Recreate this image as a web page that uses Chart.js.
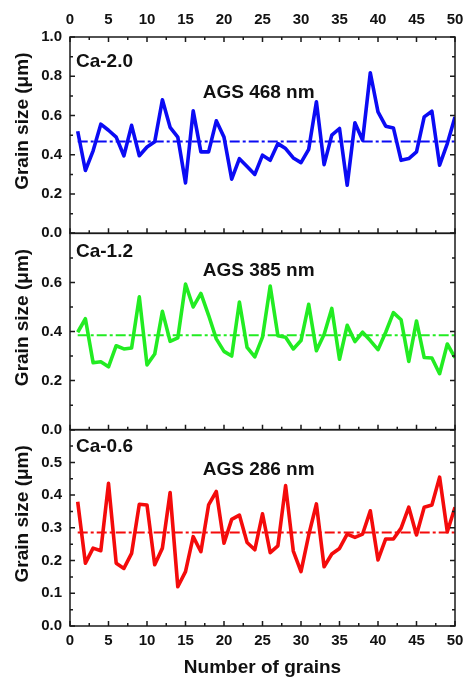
<!DOCTYPE html>
<html>
<head>
<meta charset="utf-8">
<title>Grain size</title>
<script src="https://cdn.jsdelivr.net/npm/chart.js@4.4.1/dist/chart.umd.min.js"></script>
<style>
  html, body { margin: 0; padding: 0; background: #fff; }
  #grainChart { display: block; }
</style>
</head>
<body>
<canvas id="grainChart" width="465" height="682"></canvas>
<script>
const grainNumbers = [1, 2, 3, 4, 5, 6, 7, 8, 9, 10, 11, 12, 13, 14, 15, 16, 17, 18, 19, 20,
  21, 22, 23, 24, 25, 26, 27, 28, 29, 30, 31, 32, 33, 34, 35, 36, 37, 38, 39, 40,
  41, 42, 43, 44, 45, 46, 47, 48, 49, 50];

const ca20Sizes = [0.52, 0.32, 0.42, 0.556, 0.525, 0.49, 0.395, 0.55, 0.395, 0.44,
  0.466, 0.68, 0.54, 0.49, 0.257, 0.624, 0.415, 0.415, 0.573, 0.49,
  0.276, 0.38, 0.34, 0.30, 0.398, 0.372, 0.457, 0.432, 0.384, 0.36,
  0.428, 0.67, 0.35, 0.50, 0.534, 0.245, 0.563, 0.474, 0.818, 0.619,
  0.546, 0.537, 0.372, 0.381, 0.415, 0.593, 0.622, 0.347, 0.457, 0.593];

const ca12Sizes = [0.397, 0.452, 0.273, 0.277, 0.256, 0.342, 0.329, 0.333, 0.541, 0.264,
  0.308, 0.482, 0.36, 0.374, 0.593, 0.50, 0.555, 0.466, 0.37, 0.319,
  0.30, 0.52, 0.335, 0.297, 0.377, 0.585, 0.383, 0.377, 0.329, 0.363,
  0.511, 0.322, 0.388, 0.494, 0.287, 0.425, 0.359, 0.397, 0.363, 0.326,
  0.397, 0.477, 0.448, 0.278, 0.443, 0.294, 0.292, 0.228, 0.349, 0.294];

const ca06Sizes = [0.38, 0.192, 0.238, 0.23, 0.436, 0.192, 0.176, 0.222, 0.372, 0.37,
  0.187, 0.238, 0.408, 0.12, 0.166, 0.273, 0.227, 0.37, 0.411, 0.253,
  0.326, 0.339, 0.255, 0.233, 0.343, 0.224, 0.245, 0.429, 0.229, 0.166,
  0.278, 0.373, 0.181, 0.22, 0.237, 0.281, 0.271, 0.281, 0.352, 0.202,
  0.266, 0.266, 0.299, 0.363, 0.278, 0.363, 0.37, 0.455, 0.288, 0.363];

const sampleNames = ['Ca-2.0', 'Ca-1.2', 'Ca-0.6'];
const averageSizes = [0.468, 0.385, 0.286];
const averageLabels = ['AGS 468 nm', 'AGS 385 nm', 'AGS 286 nm'];

const xTickValues = [0, 5, 10, 15, 20, 25, 30, 35, 40, 45, 50];
const topPanelTicks = [0, 0.2, 0.4, 0.6, 0.8, 1.0];
const middlePanelTicks = [0, 0.2, 0.4, 0.6];
const bottomPanelTicks = [0, 0.1, 0.2, 0.3, 0.4, 0.5];

const yAxisTitle = 'Grain size (μm)';
const xAxisTitle = 'Number of grains';

const fontFamily = "'Liberation Sans', Arial, sans-serif";
const tickFont = { family: fontFamily, size: 15, weight: 'bold' };

// panel styling, top to bottom
const panels = [
  { axis: 'yTop', sizes: ca20Sizes, color: '#0b0bf4', nameY: 0.875, agsY: 0.716 },
  { axis: 'yMid', sizes: ca12Sizes, color: '#22ec22', nameY: 0.725, agsY: 0.648 },
  { axis: 'yBot', sizes: ca06Sizes, color: '#f40b0b', nameY: 0.548, agsY: 0.476 }
];

function useTicks(values) {
  return scale => { scale.ticks = values.map(v => ({ value: v })); };
}

function yScale(max, ticks) {
  return {
    type: 'linear',
    position: 'left',
    stack: 'panels',
    stackWeight: 1,
    min: 0,
    max: max,
    grid: { display: false, drawTicks: false },
    border: { display: false },
    afterBuildTicks: useTicks(ticks),
    afterFit: scale => { scale.width = 70; },
    ticks: {
      color: '#111',
      font: tickFont,
      padding: 8,
      callback: v => v.toFixed(1)
    }
  };
}

const datasets = [];
panels.forEach((p, i) => {
  datasets.push({
    data: grainNumbers.map((n, k) => ({ x: n, y: p.sizes[k] })),
    yAxisID: p.axis,
    borderColor: p.color,
    borderWidth: 3.6,
    borderJoinStyle: 'round',
    pointRadius: 0,
    tension: 0
  });
  datasets.push({
    data: [
      { x: grainNumbers[0], y: averageSizes[i] },
      { x: grainNumbers[grainNumbers.length - 1], y: averageSizes[i] }
    ],
    yAxisID: p.axis,
    borderColor: p.color,
    borderWidth: 2,
    borderDash: [10, 3, 3, 3],
    pointRadius: 0
  });
});

// frame, inward tick marks and panel texts
const panelDecor = {
  id: 'panelDecor',
  afterDatasetsDraw(chart) {
    const ctx = chart.ctx;
    const xs = chart.scales.x;
    const left = chart.chartArea.left;
    const right = chart.chartArea.right;
    const xStep = xTickValues[1] - xTickValues[0];

    ctx.save();
    ctx.strokeStyle = '#1a1a1a';
    ctx.lineWidth = 1.5;

    panels.forEach((p, i) => {
      const ys = chart.scales[p.axis];
      const top = ys.top;
      const bottom = ys.bottom;
      ctx.strokeRect(left, top, right - left, bottom - top);

      ctx.beginPath();
      // x ticks on the bottom edge (and top edge of the first panel)
      xTickValues.forEach((v, k) => {
        const marks = [[v, 5]];
        if (k < xTickValues.length - 1) marks.push([v + xStep / 2, 3]);
        marks.forEach(([val, len]) => {
          const px = xs.getPixelForValue(val);
          ctx.moveTo(px, bottom);
          ctx.lineTo(px, bottom - len);
          if (i === 0) {
            ctx.moveTo(px, top);
            ctx.lineTo(px, top + len);
          }
        });
      });
      // y ticks on both sides
      const yStep = ys.ticks[1].value - ys.ticks[0].value;
      for (let v = 0; v <= ys.max + 1e-9; v += yStep / 2) {
        const major = Math.abs(v / yStep - Math.round(v / yStep)) < 1e-6;
        const len = major ? 5 : 3;
        const py = ys.getPixelForValue(v);
        ctx.moveTo(left, py);
        ctx.lineTo(left + len, py);
        ctx.moveTo(right, py);
        ctx.lineTo(right - len, py);
      }
      ctx.stroke();

      // texts
      ctx.fillStyle = '#111';
      ctx.font = 'bold 19px ' + fontFamily;
      ctx.textBaseline = 'middle';
      ctx.textAlign = 'left';
      ctx.fillText(sampleNames[i], xs.getPixelForValue(0.78), ys.getPixelForValue(p.nameY));
      ctx.textAlign = 'center';
      ctx.fillText(averageLabels[i], xs.getPixelForValue(24.5), ys.getPixelForValue(p.agsY));

      // y axis title
      ctx.save();
      ctx.translate(23, (top + bottom) / 2 - 14);
      ctx.rotate(-Math.PI / 2);
      ctx.fillText(yAxisTitle, 0, 0);
      ctx.restore();
    });
    ctx.restore();
  }
};

function fixHeight(h) {
  return scale => {
    scale.height = h;
    scale.paddingLeft = 0;
    scale.paddingRight = 0;
  };
}

const xAxisBase = {
  type: 'linear',
  min: 0,
  max: 50,
  grid: { display: false, drawTicks: false },
  border: { display: false },
  afterBuildTicks: useTicks(xTickValues),
  ticks: { color: '#111', font: tickFont, maxRotation: 0, padding: 6 }
};

new Chart(document.getElementById('grainChart'), {
  type: 'line',
  data: { datasets: datasets },
  options: {
    responsive: false,
    animation: false,
    layout: { padding: { left: 0, right: 10, top: 0, bottom: 0 } },
    plugins: {
      legend: { display: false },
      tooltip: { enabled: false }
    },
    scales: {
      x: Object.assign({}, xAxisBase, {
        position: 'bottom',
        afterFit: fixHeight(56),
        title: {
          display: true,
          text: xAxisTitle,
          color: '#111',
          font: { family: fontFamily, size: 19, weight: 'bold' },
          padding: { top: 0, bottom: 3 }
        }
      }),
      xTop: Object.assign({}, xAxisBase, {
        position: 'top',
        afterFit: fixHeight(37),
        ticks: { color: '#111', font: tickFont, maxRotation: 0, padding: 8 }
      }),
      yBot: yScale(0.6, bottomPanelTicks),
      yMid: yScale(0.8, middlePanelTicks),
      yTop: yScale(1.0, topPanelTicks)
    }
  },
  plugins: [panelDecor]
});
</script>
</body>
</html>
